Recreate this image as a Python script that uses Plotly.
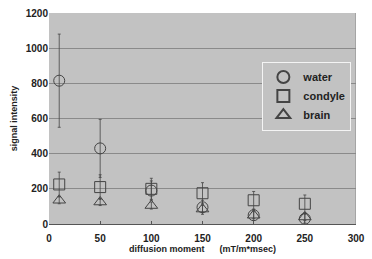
import plotly.graph_objects as go

x = [10, 50, 100, 150, 200, 250]
water = [815, 430, 190, 95, 50, 30]
water_err = [265, 165, 55, 40, 30, 25]
condyle = [225, 210, 200, 175, 135, 115]
condyle_err = [70, 70, 60, 60, 50, 50]
brain = [135, 125, 105, 85, 50, 40]
brain_err = [20, 20, 20, 20, 20, 20]

fig = go.Figure()
series = [("water", water, water_err, "circle-open", 11),
          ("condyle", condyle, condyle_err, "square-open", 11),
          ("brain", brain, brain_err, "triangle-up-open", 11)]
for name, y, e, sym, sz in series:
    fig.add_trace(go.Scatter(
        x=x, y=y, name=name, mode="markers",
        marker=dict(symbol=sym, size=sz, color="#444444", line=dict(width=1, color="#444444")),
        error_y=dict(type="data", array=e, visible=True, color="#444444", thickness=0.8, width=1.5),
    ))

fig.update_layout(
    width=372, height=259,
    margin=dict(l=49, r=15, t=7, b=35),
    paper_bgcolor="white",
    plot_bgcolor="#c2c2c2",
    font=dict(family="Liberation Sans, Arial", color="#222222"),
    showlegend=True,
    legend=dict(x=0.695, y=0.77, xanchor="left", yanchor="top",
                bgcolor="#c2c2c2", bordercolor="#f4f4f4", borderwidth=1,
                font=dict(size=11, family="Liberation Sans, Arial", weight="bold"),
                itemsizing="constant", tracegroupgap=0, itemwidth=30,
                entrywidth=46),
)
fig.update_xaxes(range=[0, 300], dtick=50, showgrid=False, zeroline=False,
                 showline=True, linecolor="#555555", linewidth=1, mirror=False,
                 ticks="inside", ticklen=3, tickcolor="#555555", ticklabelstandoff=5,
                 tickfont=dict(size=10, family="Liberation Sans, Arial", weight="bold"),
                 title=dict(text="diffusion moment      (mT/m*msec)", font=dict(size=9, weight="bold"), standoff=0))
fig.update_yaxes(range=[0, 1200], dtick=200, showgrid=True, gridcolor="#8a8a8a", gridwidth=0.8,
                 zeroline=False, showline=False,
                 tickfont=dict(size=10, family="Liberation Sans, Arial", weight="bold"),
                 title=dict(text="signal intensity", font=dict(size=9, weight="bold"), standoff=6))
fig.add_shape(type="line", xref="x", yref="paper", x0=300, x1=300, y0=0, y1=1,
              line=dict(color="#888888", width=1))
fig.write_html("out.html")
